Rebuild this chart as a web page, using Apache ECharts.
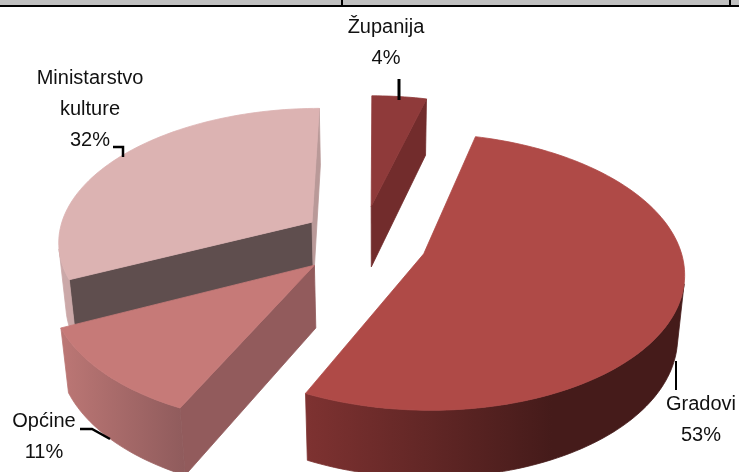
<!DOCTYPE html>
<html><head><meta charset="utf-8">
<style>html,body{margin:0;padding:0;background:#fff}#c{width:739px;height:472px}</style>
<script src="https://cdn.jsdelivr.net/npm/echarts@6/dist/echarts.min.js"></script>
</head><body><div id="c"></div>
<script>
const categories = ['Županija', 'Gradovi', 'Općine', 'Ministarstvo\nkulture'];
const shares = [4, 53, 11, 32];

// style & layout, per slice
const topColors = ['#8F3A3A', '#AF4A47', '#C67A78', '#DCB3B2'];
const endCut = ['#722C2C', '#7E3231', '#925B5C', '#B99998'];
const startCut = ['#722C2C', '#7E3231', '#925B5C', '#5F4E4E'];
const rimStops = [
  [[0, '#722C2C'], [1, '#722C2C']],
  [[0, '#7E3231'], [0.65, '#451B1A'], [1, '#451B1A']],
  [[0, '#BC7775'], [1, '#8F5B5C']],
  [[0, '#CBA8A8'], [1, '#CBA8A8']]
];
const explode = [[-6, 63], [46, -30], [-61, -51], [-66, 31]];
const paintOrder = [0, 2, 3, 1];
const labelPos = [[386, 43], [701, 420], [44, 437], [90, 109]];
const leaders = [
  [[399, 79], [399, 100]],
  [[676, 361], [676, 390]],
  [[80, 429], [92, 429], [110, 439]],
  [[113, 147], [123, 147], [123, 157]]
];
const leaderW = [3, 2, 2.5, 2.5];
const CX = 377, CY = 238, R = 254, H = 74, D = 1700;
const sinE = 0.52, cosE = Math.sqrt(1 - sinE * sinE);

function proj(x, y, z) {
  const yv = y * sinE + z * cosE, zv = y * cosE - z * sinE, s = D / (D + zv);
  return [CX + x * s, CY - yv * s];
}
function area(p) {
  let a = 0;
  for (let i = 0; i < p.length; i++) { const q = p[(i + 1) % p.length]; a += p[i][0] * q[1] - q[0] * p[i][1]; }
  return a;
}
const total = shares.reduce((a, b) => a + b, 0);
const poly = (points, fill, z2) => ({ type: 'polygon', shape: { points }, z2, silent: true,
  style: { fill, stroke: fill, lineWidth: 0.8 } });

function renderItem(params, api) {
  const i = params.dataIndex, value = api.value(0);
  const before = shares.slice(0, i).reduce((a, b) => a + b, 0);
  const a1 = before / total * 2 * Math.PI, a2 = (before + value) / total * 2 * Math.PI;
  const [ex, ey] = explode[i];
  const pt = (a, z) => proj(ex + R * Math.sin(a), ey + R * Math.cos(a), z);
  const apexT = proj(ex, ey, 0), apexB = proj(ex, ey, -H);
  const z0 = paintOrder[i] * 1000;
  const kids = [];
  const f1 = [apexT, pt(a1, 0), pt(a1, -H), apexB], f2 = [apexT, pt(a2, 0), pt(a2, -H), apexB];
  if (area(f1) < 0) kids.push(poly(f1, startCut[i], z0 + 1));
  if (area(f2) > 0) kids.push(poly(f2, endCut[i], z0 + 1));
  const N = Math.max(4, Math.ceil((a2 - a1) / (Math.PI / 120)));
  const top = [apexT], up = [], low = [];
  for (let k = 0; k <= N; k++) top.push(pt(a1 + (a2 - a1) * k / N, 0));
  for (let k = 0; k < N; k++) {
    const b1 = a1 + (a2 - a1) * k / N, b2 = a1 + (a2 - a1) * (k + 1) / N;
    if (area([pt(b1, 0), pt(b2, 0), pt(b2, -H), pt(b1, -H)]) < 0) {
      if (!up.length) { up.push(pt(b1, 0)); low.push(pt(b1, -H)); }
      up.push(pt(b2, 0)); low.push(pt(b2, -H));
    }
  }
  if (up.length) {
    const stops = rimStops[i].map(s => ({ offset: s[0], color: s[1] }));
    kids.push(poly(up.concat(low.reverse()), new echarts.graphic.LinearGradient(0, 0, 1, 0, stops), z0 + 2));
  }
  kids.push(poly(top, topColors[i], z0 + 3));
  kids.push({ type: 'polyline', shape: { points: leaders[i] }, z2: 9000, silent: true,
    style: { fill: 'none', stroke: '#000', lineWidth: leaderW[i] } });
  kids.push({ type: 'text', x: labelPos[i][0], y: labelPos[i][1], z2: 9001, silent: true,
    style: { text: categories[i] + '\n' + value + '%', fill: '#111', align: 'center', verticalAlign: 'middle',
      font: '20px "Liberation Sans", Arial, sans-serif', lineHeight: 31 } });
  return { type: 'group', children: kids };
}

const chart = echarts.init(document.getElementById('c'), null, { renderer: 'canvas' });
chart.setOption({
  animation: false,
  backgroundColor: '#ffffff',
  graphic: [
    { type: 'rect', shape: { x: 0, y: 0, width: 739, height: 5 }, style: { fill: '#C0C0C0' }, silent: true },
    { type: 'rect', shape: { x: 0, y: 5, width: 739, height: 2 }, style: { fill: '#000' }, silent: true },
    { type: 'rect', shape: { x: 341, y: 0, width: 2, height: 5 }, style: { fill: '#000' }, silent: true },
    { type: 'rect', shape: { x: 729, y: 0, width: 2, height: 5 }, style: { fill: '#000' }, silent: true }
  ],
  series: [{
    type: 'custom', coordinateSystem: 'none', silent: true, clip: false,
    data: shares.map((v, i) => ({ name: categories[i], value: [v] })),
    renderItem
  }]
});
</script></body></html>
